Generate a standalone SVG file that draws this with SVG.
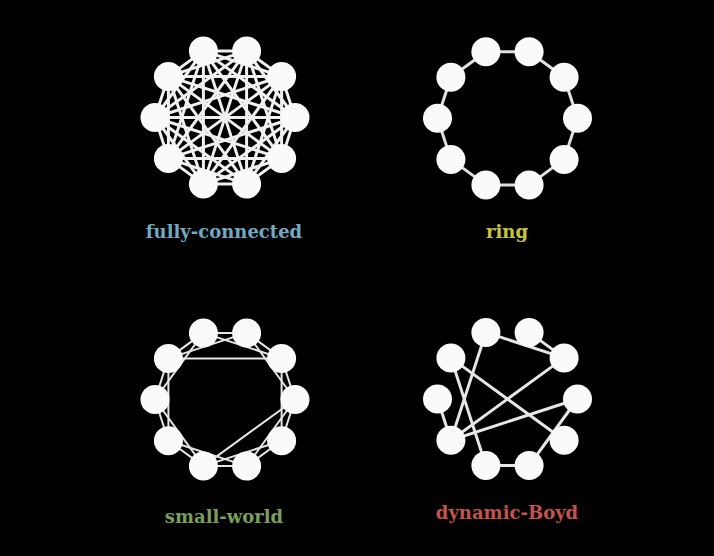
<svg xmlns="http://www.w3.org/2000/svg" width="714" height="556" viewBox="0 0 714 556">
<style>
.bg{fill:#000}
.n{fill:#fafafa}
.e{stroke:#f0f0f0;stroke-width:3;stroke-linecap:round}
.er{stroke:#e0e0e0;stroke-width:3}
.es{stroke:#e6e6e6;stroke-width:2}
.eb{stroke:#e6e6e6;stroke-width:3}
.lbl{font-family:"DejaVu Serif","Liberation Serif",serif;font-weight:bold;font-size:18px;text-anchor:middle}
</style>
<rect class="bg" x="0" y="0" width="714" height="556"/>
<g id="connectors">
<g id="edges-fully-connected" class="e">
<line x1="295" y1="117.5" x2="281.6" y2="76.4"/><line x1="295" y1="117.5" x2="246.6" y2="50.9"/><line x1="295" y1="117.5" x2="203.4" y2="50.9"/><line x1="295" y1="117.5" x2="168.4" y2="76.4"/><line x1="295" y1="117.5" x2="155" y2="117.5"/><line x1="295" y1="117.5" x2="168.4" y2="158.6"/><line x1="295" y1="117.5" x2="203.4" y2="184.1"/><line x1="295" y1="117.5" x2="246.6" y2="184.1"/><line x1="295" y1="117.5" x2="281.6" y2="158.6"/>
<line x1="281.6" y1="76.4" x2="246.6" y2="50.9"/><line x1="281.6" y1="76.4" x2="203.4" y2="50.9"/><line x1="281.6" y1="76.4" x2="168.4" y2="76.4"/><line x1="281.6" y1="76.4" x2="155" y2="117.5"/><line x1="281.6" y1="76.4" x2="168.4" y2="158.6"/><line x1="281.6" y1="76.4" x2="203.4" y2="184.1"/><line x1="281.6" y1="76.4" x2="246.6" y2="184.1"/><line x1="281.6" y1="76.4" x2="281.6" y2="158.6"/>
<line x1="246.6" y1="50.9" x2="203.4" y2="50.9"/><line x1="246.6" y1="50.9" x2="168.4" y2="76.4"/><line x1="246.6" y1="50.9" x2="155" y2="117.5"/><line x1="246.6" y1="50.9" x2="168.4" y2="158.6"/><line x1="246.6" y1="50.9" x2="203.4" y2="184.1"/><line x1="246.6" y1="50.9" x2="246.6" y2="184.1"/><line x1="246.6" y1="50.9" x2="281.6" y2="158.6"/>
<line x1="203.4" y1="50.9" x2="168.4" y2="76.4"/><line x1="203.4" y1="50.9" x2="155" y2="117.5"/><line x1="203.4" y1="50.9" x2="168.4" y2="158.6"/><line x1="203.4" y1="50.9" x2="203.4" y2="184.1"/><line x1="203.4" y1="50.9" x2="246.6" y2="184.1"/><line x1="203.4" y1="50.9" x2="281.6" y2="158.6"/>
<line x1="168.4" y1="76.4" x2="155" y2="117.5"/><line x1="168.4" y1="76.4" x2="168.4" y2="158.6"/><line x1="168.4" y1="76.4" x2="203.4" y2="184.1"/><line x1="168.4" y1="76.4" x2="246.6" y2="184.1"/><line x1="168.4" y1="76.4" x2="281.6" y2="158.6"/>
<line x1="155" y1="117.5" x2="168.4" y2="158.6"/><line x1="155" y1="117.5" x2="203.4" y2="184.1"/><line x1="155" y1="117.5" x2="246.6" y2="184.1"/><line x1="155" y1="117.5" x2="281.6" y2="158.6"/>
<line x1="168.4" y1="158.6" x2="203.4" y2="184.1"/><line x1="168.4" y1="158.6" x2="246.6" y2="184.1"/><line x1="168.4" y1="158.6" x2="281.6" y2="158.6"/>
<line x1="203.4" y1="184.1" x2="246.6" y2="184.1"/><line x1="203.4" y1="184.1" x2="281.6" y2="158.6"/>
<line x1="246.6" y1="184.1" x2="281.6" y2="158.6"/>
</g>
<g id="edges-ring" class="er">
<line x1="577.5" y1="118.3" x2="564.1" y2="77.2"/><line x1="564.1" y1="77.2" x2="529.1" y2="51.7"/><line x1="529.1" y1="51.7" x2="485.9" y2="51.7"/><line x1="485.9" y1="51.7" x2="450.9" y2="77.2"/><line x1="450.9" y1="77.2" x2="437.5" y2="118.3"/><line x1="437.5" y1="118.3" x2="450.9" y2="159.4"/><line x1="450.9" y1="159.4" x2="485.9" y2="184.9"/><line x1="485.9" y1="184.9" x2="529.1" y2="184.9"/><line x1="529.1" y1="184.9" x2="564.1" y2="159.4"/><line x1="564.1" y1="159.4" x2="577.5" y2="118.3"/>
</g>
<g id="edges-small-world" class="es">
<line x1="295" y1="399.5" x2="281.6" y2="358.4"/><line x1="281.6" y1="358.4" x2="246.6" y2="332.9"/><line x1="246.6" y1="332.9" x2="203.4" y2="332.9"/><line x1="203.4" y1="332.9" x2="168.4" y2="358.4"/><line x1="168.4" y1="358.4" x2="155" y2="399.5"/><line x1="155" y1="399.5" x2="168.4" y2="440.7"/><line x1="168.4" y1="440.7" x2="203.4" y2="466.1"/><line x1="203.4" y1="466.1" x2="246.6" y2="466.1"/><line x1="246.6" y1="466.1" x2="281.6" y2="440.7"/><line x1="281.6" y1="440.7" x2="295" y2="399.5"/>
<line x1="295" y1="399.5" x2="246.6" y2="332.9"/><line x1="281.6" y1="358.4" x2="203.4" y2="332.9"/><line x1="246.6" y1="332.9" x2="168.4" y2="358.4"/><line x1="203.4" y1="332.9" x2="155" y2="399.5"/><line x1="168.4" y1="358.4" x2="168.4" y2="440.7"/><line x1="155" y1="399.5" x2="203.4" y2="466.1"/><line x1="168.4" y1="440.7" x2="246.6" y2="466.1"/><line x1="203.4" y1="466.1" x2="281.6" y2="440.7"/><line x1="246.6" y1="466.1" x2="295" y2="399.5"/><line x1="281.6" y1="440.7" x2="281.6" y2="358.4"/>
<line x1="168.4" y1="358.4" x2="281.6" y2="358.4"/><line x1="295" y1="399.5" x2="203.4" y2="466.1"/>
</g>
<g id="edges-dynamic-boyd" class="eb">
<line x1="485.9" y1="332.4" x2="564.1" y2="357.9"/><line x1="529.1" y1="332.4" x2="564.1" y2="357.9"/><line x1="485.9" y1="332.4" x2="450.9" y2="440.2"/><line x1="450.9" y1="357.9" x2="564.1" y2="440.2"/><line x1="450.9" y1="357.9" x2="485.9" y2="465.6"/><line x1="564.1" y1="357.9" x2="450.9" y2="440.2"/><line x1="577.5" y1="399" x2="450.9" y2="440.2"/><line x1="577.5" y1="399" x2="529.1" y2="465.6"/><line x1="437.5" y1="399" x2="450.9" y2="440.2"/><line x1="485.9" y1="465.6" x2="529.1" y2="465.6"/>
</g>
</g>
<g id="graph-fully-connected">
<circle id="fc0" class="n" cx="295" cy="117.5" r="14.5"/><circle id="fc1" class="n" cx="281.6" cy="76.4" r="14.5"/><circle id="fc2" class="n" cx="246.6" cy="50.9" r="14.5"/><circle id="fc3" class="n" cx="203.4" cy="50.9" r="14.5"/><circle id="fc4" class="n" cx="168.4" cy="76.4" r="14.5"/><circle id="fc5" class="n" cx="155" cy="117.5" r="14.5"/><circle id="fc6" class="n" cx="168.4" cy="158.6" r="14.5"/><circle id="fc7" class="n" cx="203.4" cy="184.1" r="14.5"/><circle id="fc8" class="n" cx="246.6" cy="184.1" r="14.5"/><circle id="fc9" class="n" cx="281.6" cy="158.6" r="14.5"/>
<text class="lbl" x="224" y="238" fill="#6fa9c2">fully-connected</text>
</g>
<g id="graph-ring">
<circle id="r0" class="n" cx="577.5" cy="118.3" r="14.5"/><circle id="r1" class="n" cx="564.1" cy="77.2" r="14.5"/><circle id="r2" class="n" cx="529.1" cy="51.7" r="14.5"/><circle id="r3" class="n" cx="485.9" cy="51.7" r="14.5"/><circle id="r4" class="n" cx="450.9" cy="77.2" r="14.5"/><circle id="r5" class="n" cx="437.5" cy="118.3" r="14.5"/><circle id="r6" class="n" cx="450.9" cy="159.4" r="14.5"/><circle id="r7" class="n" cx="485.9" cy="184.9" r="14.5"/><circle id="r8" class="n" cx="529.1" cy="184.9" r="14.5"/><circle id="r9" class="n" cx="564.1" cy="159.4" r="14.5"/>
<text class="lbl" x="507" y="238" fill="#c6c53c">ring</text>
</g>
<g id="graph-small-world">
<circle id="s0" class="n" cx="295" cy="399.5" r="14.5"/><circle id="s1" class="n" cx="281.6" cy="358.4" r="14.5"/><circle id="s2" class="n" cx="246.6" cy="332.9" r="14.5"/><circle id="s3" class="n" cx="203.4" cy="332.9" r="14.5"/><circle id="s4" class="n" cx="168.4" cy="358.4" r="14.5"/><circle id="s5" class="n" cx="155" cy="399.5" r="14.5"/><circle id="s6" class="n" cx="168.4" cy="440.7" r="14.5"/><circle id="s7" class="n" cx="203.4" cy="466.1" r="14.5"/><circle id="s8" class="n" cx="246.6" cy="466.1" r="14.5"/><circle id="s9" class="n" cx="281.6" cy="440.7" r="14.5"/>
<text class="lbl" x="224" y="523" fill="#7a9f5b">small-world</text>
</g>
<g id="graph-dynamic-boyd">
<circle id="b0" class="n" cx="577.5" cy="399" r="14.5"/><circle id="b1" class="n" cx="564.1" cy="357.9" r="14.5"/><circle id="b2" class="n" cx="529.1" cy="332.4" r="14.5"/><circle id="b3" class="n" cx="485.9" cy="332.4" r="14.5"/><circle id="b4" class="n" cx="450.9" cy="357.9" r="14.5"/><circle id="b5" class="n" cx="437.5" cy="399" r="14.5"/><circle id="b6" class="n" cx="450.9" cy="440.2" r="14.5"/><circle id="b7" class="n" cx="485.9" cy="465.6" r="14.5"/><circle id="b8" class="n" cx="529.1" cy="465.6" r="14.5"/><circle id="b9" class="n" cx="564.1" cy="440.2" r="14.5"/>
<text class="lbl" x="507" y="519" fill="#c4534a">dynamic-Boyd</text>
</g>
</svg>
